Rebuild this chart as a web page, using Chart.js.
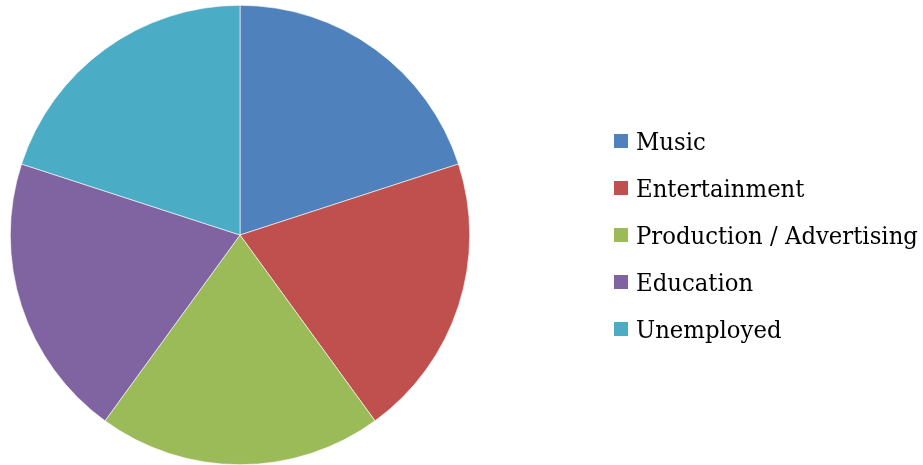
<!DOCTYPE html>
<html>
<head>
<meta charset="utf-8">
<script src="https://cdn.jsdelivr.net/npm/chart.js@4/dist/chart.umd.min.js"></script>
<style>
html,body{margin:0;padding:0;background:#fff;}
#wrap{position:relative;width:923px;height:465px;}
</style>
</head>
<body>
<div id="wrap"><canvas id="c" width="923" height="465"></canvas></div>
<script>
const categories = ["Music", "Entertainment", "Production / Advertising", "Education", "Unemployed"];
const shares = [20, 20, 20, 20, 20];
const colors = ["#4F81BD", "#C0504D", "#9BBB59", "#8064A2", "#4BACC6"];

const legendPlugin = {
  id: 'sideLegend',
  afterDraw(chart) {
    const ctx = chart.ctx;
    const labels = chart.data.labels;
    const bg = chart.data.datasets[0].backgroundColor;
    ctx.save();
    const fam = '"DejaVu Serif", "Liberation Serif", serif';
    ctx.font = '22px ' + fam;
    const widest = Math.max(...labels.map(l => ctx.measureText(l).width));
    const size = Math.min(24, 22 * 282 / widest);
    ctx.font = size.toFixed(2) + 'px ' + fam;
    const sy = Math.max(1, 17 / (0.729 * size));
    ctx.textBaseline = 'alphabetic';
    ctx.textAlign = 'left';
    const x0 = 614, y0 = 134, step = 47, box = 14;
    labels.forEach((lab, i) => {
      const y = y0 + i * step;
      ctx.fillStyle = bg[i];
      ctx.fillRect(x0, y, box, box);
      ctx.save();
      ctx.translate(636, y + 16);
      ctx.scale(1, sy);
      ctx.fillStyle = '#000';
      ctx.fillText(lab, 0, 0);
      ctx.restore();
    });
    ctx.restore();
  }
};

new Chart(document.getElementById('c'), {
  type: 'pie',
  data: {
    labels: categories,
    datasets: [{
      data: shares,
      backgroundColor: colors,
      borderColor: '#ffffff',
      borderWidth: 0.6
    }]
  },
  options: {
    responsive: false,
    animation: false,
    layout: { padding: { left: 10, top: 5, right: 453, bottom: 0 } },
    plugins: {
      legend: { display: false },
      tooltip: { enabled: false }
    }
  },
  plugins: [legendPlugin]
});
</script>
</body>
</html>
